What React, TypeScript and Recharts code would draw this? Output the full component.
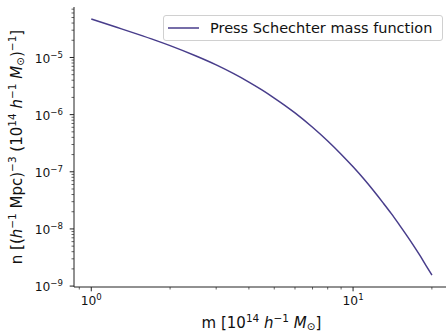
import { LineChart, Line, XAxis, YAxis, Legend } from 'recharts';

// halo mass in 10^14 h^-1 Msun
const MASS = [
  1, 1.25, 1.5, 1.75, 2, 2.5, 3, 3.5, 4, 4.5, 5, 5.5, 6, 7, 8, 9, 10,
  11, 12, 13, 14, 15, 16, 17, 18, 19, 20,
];
// number density
const DENSITY = [
  4.7e-5, 3.37e-5, 2.56e-5, 2.01e-5, 1.61e-5, 1.07e-5, 7.41e-6, 5.2e-6,
  3.71e-6, 2.68e-6, 1.95e-6, 1.44e-6, 1.07e-6, 6.0e-7, 3.45e-7, 2.03e-7,
  1.22e-7, 7.46e-8, 4.61e-8, 2.89e-8, 1.85e-8, 1.19e-8, 7.8e-9, 5.17e-9,
  3.44e-9, 2.29e-9, 1.56e-9,
];

const X_TICKS = [0.9, 1, 2, 3, 4, 5, 6, 7, 8, 9, 10, 20];
const X_MAJOR = [1, 10];
const X_LABELS = ['0', '1'];

const Y_TICKS = [
  1e-9, 2e-9, 3e-9, 4e-9, 5e-9, 6e-9, 7e-9, 8e-9, 9e-9,
  1e-8, 2e-8, 3e-8, 4e-8, 5e-8, 6e-8, 7e-8, 8e-8, 9e-8,
  1e-7, 2e-7, 3e-7, 4e-7, 5e-7, 6e-7, 7e-7, 8e-7, 9e-7,
  1e-6, 2e-6, 3e-6, 4e-6, 5e-6, 6e-6, 7e-6, 8e-6, 9e-6,
  1e-5, 2e-5, 3e-5, 4e-5, 5e-5, 6e-5, 7e-5,
];
const Y_MAJOR = [1e-9, 1e-8, 1e-7, 1e-6, 1e-5];
const Y_LABELS = ['\u22129', '\u22128', '\u22127', '\u22126', '\u22125'];

const SERIES_NAME = 'Press Schechter mass function';
const LINE_COLOR = '#483d8b';
const FONT = '"DejaVu Sans", sans-serif';

const data = MASS.map((m, i) => ({ m, n: DENSITY[i] }));

type Part = [string, string];

function MathText({ parts, size, ...rest }: { parts: Part[]; size: number; [k: string]: any }) {
  let shift = 0;
  return (
    <text fontFamily={FONT} fontSize={size} fill="#111" style={{ whiteSpace: 'pre' }} {...rest}>
      {parts.map(([t, f], i) => {
        const sup = f.includes('^');
        const sub = f.includes('_');
        const target = sup ? -0.42 * size : sub ? 0.12 * size : 0;
        const dy = target - shift;
        shift = target;
        return (
          <tspan
            key={i}
            dy={dy}
            fontSize={sup || sub ? size * 0.7 : size}
            fontStyle={f.includes('i') ? 'italic' : 'normal'}
          >
            {t}
          </tspan>
        );
      })}
    </text>
  );
}

function XTick(props: any) {
  const { x, y, payload } = props;
  const idx = X_MAJOR.indexOf(payload.value);
  const major = idx >= 0;
  return (
    <g>
      <line x1={x} x2={x} y1={y} y2={y + (major ? 4.3 : 2.5)} stroke="#222" strokeWidth={major ? 1 : 0.7} />
      {major && (
        <MathText
          x={x}
          y={y + 18}
          size={12.3}
          textAnchor="middle"
          parts={[['10', ''], [X_LABELS[idx], '^']]}
        />
      )}
    </g>
  );
}

function YTick(props: any) {
  const { x, y, payload } = props;
  const idx = Y_MAJOR.indexOf(payload.value);
  const major = idx >= 0;
  return (
    <g>
      <line x1={x} x2={x - (major ? 4.3 : 2.5)} y1={y} y2={y} stroke="#222" strokeWidth={major ? 1 : 0.7} />
      {major && (
        <MathText
          x={x - 11}
          y={y + 5.4}
          size={12.3}
          textAnchor="end"
          parts={[['10', ''], [Y_LABELS[idx], '^']]}
        />
      )}
    </g>
  );
}

const X_TITLE: Part[] = [
  ['m [10', ''], ['14', '^'], [' ', ''], ['h', 'i'], ['\u22121', '^'], [' ', ''],
  ['M', 'i'], ['\u2299', '_'], [']', ''],
];
const Y_TITLE: Part[] = [
  ['n [(', ''], ['h', 'i'], ['\u22121', '^'], [' Mpc)', ''], ['\u22123', '^'], [' (10', ''],
  ['14', '^'], [' ', ''], ['h', 'i'], ['\u22121', '^'], [' ', ''], ['M', 'i'], ['\u2299', '_'],
  [')', ''], ['\u22121', '^'], [']', ''],
];

function LegendBox() {
  return (
    <div
      style={{
        width: 280,
        height: 26,
        boxSizing: 'border-box',
        border: '1px solid #d0d0d0',
        borderRadius: 3,
        background: 'rgba(255,255,255,0.8)',
        display: 'flex',
        alignItems: 'center',
        fontFamily: FONT,
        fontSize: 14.5,
        color: '#111',
      }}
    >
      <svg width={31} height={4} style={{ marginLeft: 4, marginRight: 11 }}>
        <line x1={0} x2={31} y1={2} y2={2} stroke={LINE_COLOR} strokeWidth={1.5} />
      </svg>
      <span style={{ whiteSpace: 'nowrap' }}>{SERIES_NAME}</span>
    </div>
  );
}

export default function App() {
  return (
    <div style={{ position: 'absolute', left: 0, top: 0, width: 446, height: 333, overflow: 'hidden', background: '#fff' }}>
      <LineChart width={449} height={333} data={data} margin={{ top: 7, right: 0, bottom: 0, left: 0 }}>
        <XAxis
          dataKey="m"
          type="number"
          scale="log"
          domain={[0.859, 23.25]}
          allowDataOverflow
          ticks={X_TICKS}
          interval={0}
          tickSize={0}
          tickMargin={0}
          tickLine={false}
          tick={<XTick />}
          height={46}
          axisLine={{ stroke: '#222', strokeWidth: 1 }}
          label={{
            content: (p: any) => {
              const vb = p.viewBox;
              return <MathText x={vb.x + vb.width / 2} y={vb.y + 41} size={15} textAnchor="middle" parts={X_TITLE} />;
            },
          }}
        />
        <XAxis
          xAxisId="top"
          orientation="top"
          type="number"
          scale="log"
          domain={[0.859, 23.25]}
          allowDataOverflow
          height={0}
          tick={false}
          tickLine={false}
          axisLine={{ stroke: '#222', strokeWidth: 1 }}
        />
        <YAxis
          type="number"
          scale="log"
          domain={[9.64e-10, 7.64e-5]}
          allowDataOverflow
          ticks={Y_TICKS}
          interval={0}
          tickSize={0}
          tickMargin={0}
          tickLine={false}
          tick={<YTick />}
          width={74}
          axisLine={{ stroke: '#222', strokeWidth: 1 }}
          label={{
            content: (p: any) => {
              const vb = p.viewBox;
              const cy = vb.y + vb.height / 2;
              return (
                <MathText
                  x={22}
                  y={cy}
                  size={15}
                  textAnchor="middle"
                  transform={`rotate(-90 22 ${cy})`}
                  parts={Y_TITLE}
                />
              );
            },
          }}
        />
        <Legend
          layout="vertical"
          align="center"
          verticalAlign="middle"
          wrapperStyle={{ top: 15, left: 163, width: 280 }}
          content={() => <LegendBox />}
        />
        <Line
          dataKey="n"
          name={SERIES_NAME}
          type="monotone"
          stroke={LINE_COLOR}
          strokeWidth={1.5}
          dot={false}
          isAnimationActive={false}
        />
      </LineChart>
    </div>
  );
}
